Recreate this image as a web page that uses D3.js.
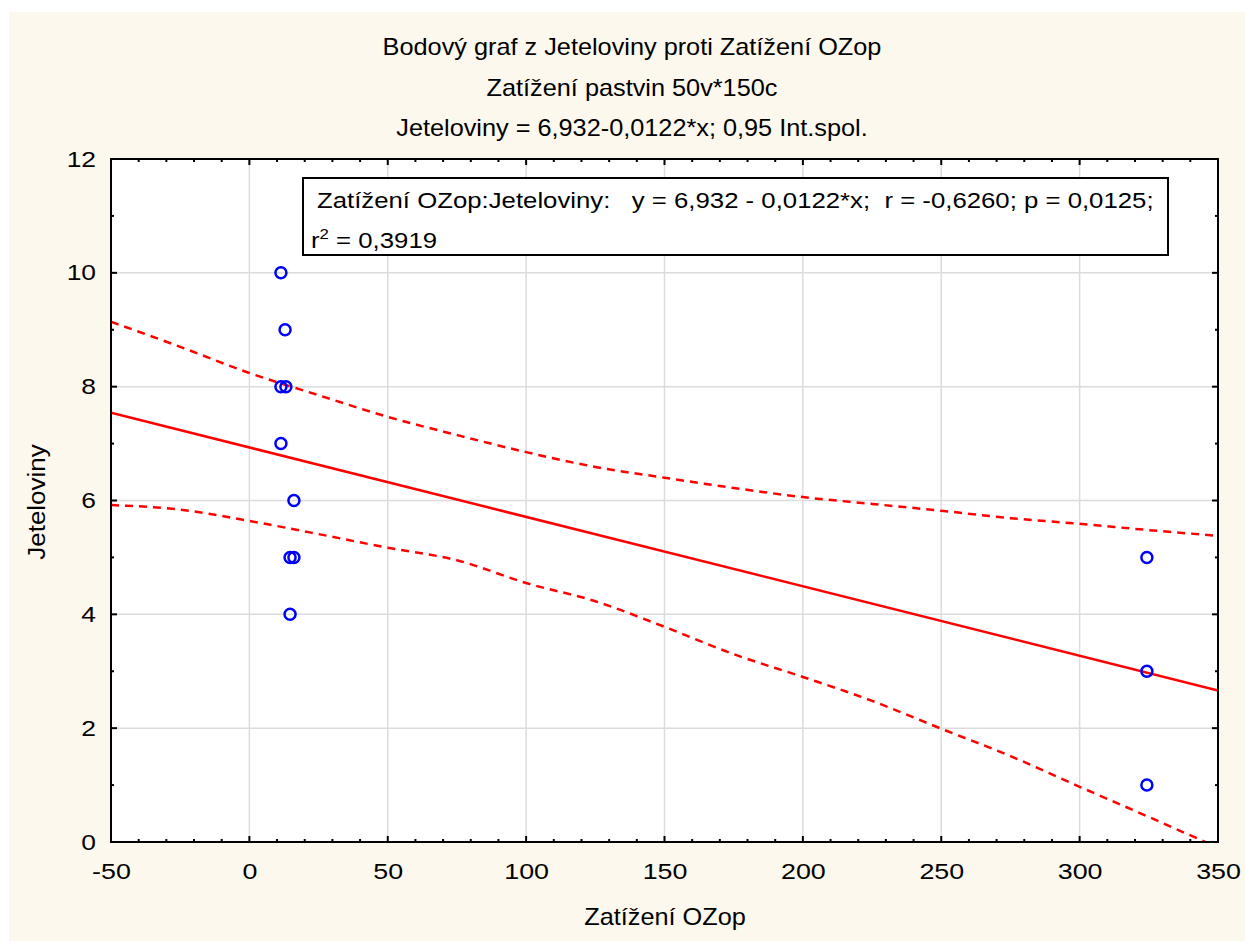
<!DOCTYPE html>
<html>
<head>
<meta charset="utf-8">
<script src="https://cdn.jsdelivr.net/npm/d3@7"></script>
<style>
  html, body { margin: 0; padding: 0; background: #fff; }
  svg { display: block; font-family: 'Liberation Sans', Arial, sans-serif; }
</style>
</head>
<body>
<svg id="chart" width="1245" height="941"></svg>
<script>
// observed points (Zatížení OZop, Jeteloviny)
const zatizeni = [11.4, 12.9, 11.4, 13.2, 11.4, 16.1, 14.7, 16.1, 14.7, 324.3, 324.3, 324.3];
const jeteloviny = [10, 9, 8, 8, 7, 6, 5, 5, 4, 5, 3, 1];

// regression y = a + b*x
const fitIntercept = 6.932;
const fitSlope = -0.0122;

// 0.95 confidence band
const bandX = [-50, -25, 0, 25, 50, 75, 100, 125, 150, 175, 200, 225, 250, 275, 300, 325, 350];
const bandUpper = [9.14, 8.70, 8.24, 7.85, 7.47, 7.15, 6.85, 6.59, 6.40, 6.22, 6.06, 5.94, 5.82, 5.69, 5.59, 5.48, 5.38];
const bandLower = [5.92, 5.84, 5.64, 5.41, 5.17, 4.95, 4.55, 4.23, 3.78, 3.30, 2.90, 2.48, 1.99, 1.51, 0.97, 0.44, -0.10];

const xTicks = [-50, 0, 50, 100, 150, 200, 250, 300, 350];
const yTicks = [0, 2, 4, 6, 8, 10, 12];

const titleLines = [
  'Bodový graf z Jeteloviny proti Zatížení OZop',
  'Zatížení pastvin 50v*150c',
  'Jeteloviny = 6,932-0,0122*x; 0,95 Int.spol.'
];
const statsLines = [
  'Zatížení OZop:Jeteloviny:   y = 6,932 - 0,0122*x;  r = -0,6260; p = 0,0125;',
  '= 0,3919'
];

const svg = d3.select('#chart');
const W = +svg.attr('width'), H = +svg.attr('height');
const plot = { left: 111, right: 1218, top: 159, bottom: 842 };
const FS = 22;      // tick font size
const LS = 23;      // label font size

const x = d3.scaleLinear().domain([-50, 350]).range([plot.left, plot.right]);
const y = d3.scaleLinear().domain([0, 12]).range([plot.bottom, plot.top]);

// place a text at (x0,y0) and stretch it horizontally
const widen = (sel, x0, y0, k, extra = '') =>
  sel.attr('transform', `translate(${x0},${y0}) ${extra} scale(${k},1)`);

// cream page, white plot
svg.append('rect').attr('x', 9).attr('y', 12).attr('width', W - 9).attr('height', H - 12).attr('fill', '#fdf8ed');
svg.append('rect')
  .attr('x', plot.left).attr('y', plot.top)
  .attr('width', plot.right - plot.left).attr('height', plot.bottom - plot.top)
  .attr('fill', '#fff');

svg.append('defs').append('clipPath').attr('id', 'clip')
  .append('rect')
  .attr('x', plot.left).attr('y', plot.top)
  .attr('width', plot.right - plot.left).attr('height', plot.bottom - plot.top);

// grid
const grid = svg.append('g').attr('stroke', '#dcdcdc').attr('stroke-width', 1.5);
grid.selectAll('.gx').data(xTicks.slice(1, -1)).enter().append('line')
  .attr('x1', d => x(d)).attr('x2', d => x(d)).attr('y1', plot.top).attr('y2', plot.bottom);
grid.selectAll('.gy').data(yTicks.slice(1, -1)).enter().append('line')
  .attr('y1', d => y(d)).attr('y2', d => y(d)).attr('x1', plot.left).attr('x2', plot.right);

// band + fit
const inner = svg.append('g').attr('clip-path', 'url(#clip)');
const bandLine = vals => d3.line().curve(d3.curveMonotoneX).x((d, i) => x(bandX[i])).y(d => y(d))(vals);
inner.selectAll('.band').data([bandUpper, bandLower]).enter().append('path')
  .attr('d', d => bandLine(d))
  .attr('fill', 'none').attr('stroke', '#ff0000').attr('stroke-width', 2.5)
  .attr('stroke-dasharray', '8,6');

const fitEnds = x.domain();
inner.append('line')
  .attr('x1', x(fitEnds[0])).attr('y1', y(fitIntercept + fitSlope * fitEnds[0]))
  .attr('x2', x(fitEnds[1])).attr('y2', y(fitIntercept + fitSlope * fitEnds[1]))
  .attr('stroke', '#ff0000').attr('stroke-width', 2.5);

// points
svg.append('g').selectAll('circle')
  .data(zatizeni.map((d, i) => [d, jeteloviny[i]]))
  .enter().append('circle')
  .attr('cx', d => x(d[0])).attr('cy', d => y(d[1])).attr('r', 5.5)
  .attr('fill', 'none').attr('stroke', '#0000ff').attr('stroke-width', 2.5);

// inward ticks on all four sides
const xMinor = d3.range(-50, 351, 10);
const yMinor = d3.range(0, 12.1, 1);
const tickSize = d => (d % 50 === 0 ? 6 : 3);
const tickSizeY = d => (d % 2 === 0 ? 6 : 3);
const ticks = svg.append('g').attr('stroke', '#000').attr('stroke-width', 2);
xMinor.forEach(d => {
  ticks.append('line').attr('x1', x(d)).attr('x2', x(d)).attr('y1', plot.bottom).attr('y2', plot.bottom - tickSize(d));
  ticks.append('line').attr('x1', x(d)).attr('x2', x(d)).attr('y1', plot.top).attr('y2', plot.top + tickSize(d));
});
yMinor.forEach(d => {
  ticks.append('line').attr('y1', y(d)).attr('y2', y(d)).attr('x1', plot.left).attr('x2', plot.left + tickSizeY(d));
  ticks.append('line').attr('y1', y(d)).attr('y2', y(d)).attr('x1', plot.right).attr('x2', plot.right - tickSizeY(d));
});

const styleTicks = g => g.selectAll('text')
  .attr('font-size', FS).attr('fill', '#000')
  .attr('font-family', 'Liberation Sans, Arial, sans-serif');

svg.append('g')
  .attr('transform', `translate(0,${plot.bottom})`)
  .call(d3.axisBottom(x).tickValues(xTicks).tickSize(0).tickPadding(21).tickFormat(d => String(d)))
  .call(g => g.select('.domain').remove())
  .call(styleTicks)
  .call(g => g.selectAll('text').attr('transform', 'scale(1.22,1)'));

svg.append('g')
  .attr('transform', `translate(${plot.left},0)`)
  .call(d3.axisLeft(y).tickValues(yTicks).tickSize(0).tickPadding(12.5).tickFormat(d => String(d)))
  .call(g => g.select('.domain').remove())
  .call(styleTicks)
  .call(g => g.selectAll('text').attr('transform', 'scale(1.2,1)'));

// frame
svg.append('rect')
  .attr('x', plot.left).attr('y', plot.top)
  .attr('width', plot.right - plot.left).attr('height', plot.bottom - plot.top)
  .attr('fill', 'none').attr('stroke', '#000').attr('stroke-width', 2);

// titles
titleLines.forEach((t, i) => {
  svg.append('text').attr('text-anchor', 'middle').attr('font-size', LS)
    .call(widen, 632, 55 + i * 40.5, 1.1)
    .text(t);
});

svg.append('text').attr('text-anchor', 'middle').attr('font-size', LS)
  .call(widen, 665, 925, 1.1)
  .text('Zatížení OZop');

svg.append('text').attr('text-anchor', 'middle').attr('font-size', LS)
  .call(widen, 45, 502, 1.13, 'rotate(-90)')
  .text('Jeteloviny');

// stats box
const box = svg.append('g');
box.append('rect')
  .attr('x', 303).attr('y', 178).attr('width', 865).attr('height', 77)
  .attr('fill', '#fff').attr('stroke', '#000').attr('stroke-width', 2);
box.append('text').attr('font-size', LS).attr('xml:space', 'preserve')
  .call(widen, 317, 208, 1.12)
  .text(statsLines[0]);
const r2 = box.append('text').attr('font-size', LS).call(widen, 311, 248, 1.12);
r2.append('tspan').text('r');
r2.append('tspan').attr('font-size', 15).attr('dy', -9).text('2');
r2.append('tspan').attr('dy', 9).text(' ' + statsLines[1]);
</script>
</body>
</html>
